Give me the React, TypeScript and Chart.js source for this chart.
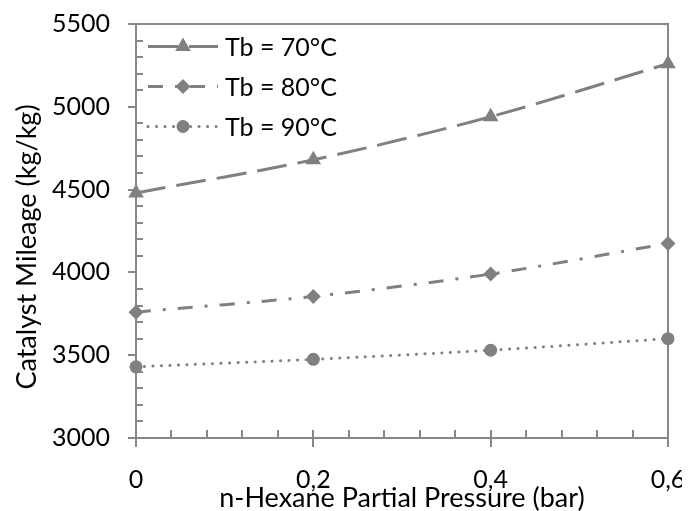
import React, { useEffect, useRef } from "react";
import { Chart, registerables } from "chart.js";

Chart.register(...registerables);

const pressures = [0, 0.2, 0.4, 0.6];
const tb70 = [4480, 4680, 4940, 5260];
const tb80 = [3760, 3855, 3990, 4175];
const tb90 = [3430, 3475, 3530, 3600];
const seriesLabels = ["Tb = 70°C", "Tb = 80°C", "Tb = 90°C"];
const xTickValues = [0, 0.2, 0.4, 0.6];
const xTickLabels = ["0", "0,2", "0,4", "0,6"];
const yTickValues = [3000, 3500, 4000, 4500, 5000, 5500];
const yTickLabels = ["3000", "3500", "4000", "4500", "5000", "5500"];
const xMinorStep = 0.04;
const yMinorStep = 100;
const xTitle = "n-Hexane Partial Pressure (bar)";
const yTitle = "Catalyst Mileage (kg/kg)";

const GRAY = "#808080";
const AXIS = "#878787";
const FONT = "Lato";

function drawMarker(ctx: CanvasRenderingContext2D, style: string, x: number, y: number, r: number) {
  ctx.beginPath();
  if (style === "triangle") {
    for (let k = 0; k < 3; k++) {
      const a = (k * 2 * Math.PI) / 3;
      const px = x + Math.sin(a) * r;
      const py = y - Math.cos(a) * r;
      if (k === 0) ctx.moveTo(px, py);
      else ctx.lineTo(px, py);
    }
    ctx.closePath();
  } else if (style === "rectRot") {
    ctx.moveTo(x - r, y);
    ctx.lineTo(x, y - r);
    ctx.lineTo(x + r, y);
    ctx.lineTo(x, y + r);
    ctx.closePath();
  } else {
    ctx.arc(x, y, r, 0, Math.PI * 2);
  }
  ctx.fill();
}

const decorPlugin = {
  id: "decor",
  beforeDatasetsDraw(chart: any) {
    const { ctx, chartArea: a, scales } = chart;
    const xs = scales.x;
    const ys = scales.y;
    ctx.save();
    ctx.strokeStyle = AXIS;
    ctx.lineWidth = 2;
    ctx.beginPath();
    ctx.moveTo(a.left, a.top);
    ctx.lineTo(a.right, a.top);
    ctx.lineTo(a.right, a.bottom);
    ctx.stroke();
    ctx.beginPath();
    for (let v = ys.min; v <= ys.max + 1e-6; v += yMinorStep) {
      if (yTickValues.some((t) => Math.abs(t - v) < 1e-6)) continue;
      const py = Math.round(ys.getPixelForValue(v));
      ctx.moveTo(a.left, py);
      ctx.lineTo(a.left + 7, py);
    }
    for (let v = xs.min; v <= xs.max + 1e-9; v += xMinorStep) {
      const px = Math.round(xs.getPixelForValue(v));
      ctx.moveTo(px, a.bottom);
      ctx.lineTo(px, a.bottom - 8);
    }
    ctx.stroke();
    ctx.fillStyle = "#000";
    ctx.font = `27px ${FONT}`;
    ctx.textAlign = "center";
    ctx.textBaseline = "middle";
    ctx.translate(19, (a.top + a.bottom) / 2 + 16);
    ctx.rotate(-Math.PI / 2);
    ctx.fillText(yTitle, 0, 0);
    ctx.restore();
  },
};

const legendPlugin = {
  id: "insideLegend",
  afterDatasetsDraw(chart: any) {
    const { ctx, chartArea: a } = chart;
    ctx.save();
    chart.data.datasets.forEach((ds: any, i: number) => {
      const y = a.top + 22.5 + i * 40;
      const x0 = a.left + 12;
      const x1 = a.left + 82;
      const xm = a.left + 47;
      ctx.strokeStyle = ds.borderColor;
      ctx.lineWidth = ds.borderWidth;
      ctx.lineCap = ds.borderCapStyle || "butt";
      ctx.setLineDash(ds.borderDash || []);
      ctx.beginPath();
      ctx.moveTo(x0, y);
      ctx.lineTo(x1, y);
      ctx.stroke();
      ctx.setLineDash([]);
      ctx.fillStyle = ds.backgroundColor;
      drawMarker(ctx, ds.pointStyle, xm, y, ds.pointRadius);
      ctx.fillStyle = "#000";
      ctx.font = `25px ${FONT}`;
      ctx.textBaseline = "middle";
      ctx.textAlign = "left";
      ctx.fillText(ds.label, a.left + 89, y + 1);
    });
    ctx.restore();
  },
};

function toPoints(ys: number[]) {
  return pressures.map((p, i) => ({ x: p, y: ys[i] }));
}

export default function App() {
  const ref = useRef<HTMLCanvasElement>(null);
  useEffect(() => {
    if (!ref.current) return;
    const common = {
      borderColor: GRAY,
      backgroundColor: GRAY,
      borderWidth: 3,
      pointBorderWidth: 0,
      pointHoverRadius: 0,
      tension: 0.3,
      clip: false as any,
    };
    const chart = new Chart(ref.current, {
      type: "line",
      data: {
        datasets: [
          { ...common, label: seriesLabels[0], data: toPoints(tb70), borderDash: [30, 11], pointStyle: "triangle", pointRadius: 9 },
          { ...common, label: seriesLabels[1], data: toPoints(tb80), borderDash: [15, 12, 3, 12], pointStyle: "rectRot", pointRadius: 7.5 },
          { ...common, label: seriesLabels[2], data: toPoints(tb90), borderDash: [0.1, 8.4], borderCapStyle: "round", pointStyle: "circle", pointRadius: 6.5 },
        ] as any,
      },
      options: {
        responsive: false,
        animation: false,
        layout: { padding: { left: 0, right: 14, top: 16, bottom: 0 } },
        plugins: { legend: { display: false }, tooltip: { enabled: false } },
        events: [],
        scales: {
          x: {
            type: "linear",
            min: 0,
            max: 0.6,
            afterBuildTicks: (s: any) => {
              s.ticks = xTickValues.map((v) => ({ value: v }));
            },
            afterFit: (s: any) => {
              s.height = 80;
              s.paddingLeft = 0;
              s.paddingRight = 0;
            },
            ticks: {
              autoSkip: false,
              maxRotation: 0,
              padding: 18,
              color: "#000",
              font: { family: FONT, size: 25 },
              callback: (_v: any, i: number) => xTickLabels[i],
            },
            grid: { drawOnChartArea: false, drawTicks: true, tickLength: 9, color: AXIS, lineWidth: 2 },
            border: { display: true, color: AXIS, width: 2 },
            title: {
              display: true,
              text: xTitle,
              color: "#000",
              font: { family: FONT, size: 27 },
              padding: { top: 0, bottom: 4 },
            },
          },
          y: {
            type: "linear",
            min: 3000,
            max: 5500,
            afterBuildTicks: (s: any) => {
              s.ticks = yTickValues.map((v) => ({ value: v }));
            },
            afterFit: (s: any) => {
              s.width = 128;
              s.paddingTop = 0;
              s.paddingBottom = 0;
            },
            ticks: {
              autoSkip: false,
              padding: 18,
              color: "#000",
              font: { family: FONT, size: 25 },
              callback: (_v: any, i: number) => yTickLabels[i],
            },
            grid: { drawOnChartArea: false, drawTicks: true, tickLength: 8, color: AXIS, lineWidth: 2 },
            border: { display: true, color: AXIS, width: 2 },
            title: { display: false },
          },
        },
      } as any,
      plugins: [decorPlugin, legendPlugin],
    });
    return () => chart.destroy();
  }, []);
  return (
    <div style={{ width: 674, height: 510 }}>
      <canvas ref={ref} width={674} height={510} style={{ display: "block" }} />
    </div>
  );
}
